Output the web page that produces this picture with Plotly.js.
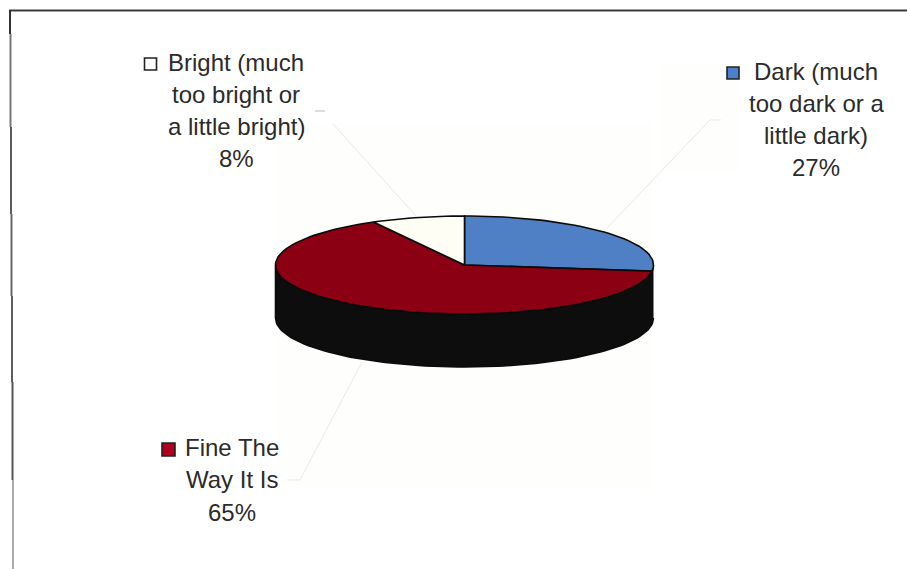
<!DOCTYPE html>
<html>
<head>
<meta charset="utf-8">
<script src="https://cdn.plot.ly/plotly-3.0.1.min.js"></script>
<style>html,body{margin:0;padding:0;background:#fff}#chart{width:907px;height:569px}</style>
</head>
<body>
<div id="chart"></div>
<script>
// Share of responses for each brightness rating, clockwise from twelve o'clock.
const categories = ['Dark', 'Fine The Way It Is', 'Bright'];
const shares = [27, 65, 8];
const sliceColors = ['#4f80c6', '#8c0013', '#fffef5'];
const keyColors = ['#4a80cc', '#b00020', '#ffffff'];

const labelLines = [
  ['Dark (much', 'too dark or a', 'little dark)', '27%'],
  ['Fine The', 'Way It Is', '65%'],
  ['Bright (much', 'too bright or', 'a little bright)', '8%']
];

// Drawing geometry of the tilted disc, in axis units (one unit = one pixel).
const disc = {cx: 464.5, cy: 265, rx: 189, ry: 49, depth: 53};
const labelPlace = [
  {x: 816, y: 71, step: 32, keyX: 733, keyY: 73, keySize: 12},
  {x: 232, y: 447, step: 32.5, keyX: 168.5, keyY: 449.5, keySize: 13},
  {x: 236, y: 62, step: 32, keyX: 150.5, keyY: 64, keySize: 12}
];

function rimPoint(deg, drop) {
  const a = deg * Math.PI / 180;
  return [disc.cx + disc.rx * Math.sin(a), disc.cy - disc.ry * Math.cos(a) + (drop || 0)];
}

function arc(from, to, drop) {
  const pts = [];
  const n = Math.max(2, Math.ceil(Math.abs(to - from) / 2));
  for (let i = 0; i <= n; i++) pts.push(rimPoint(from + (to - from) * i / n, drop));
  return pts;
}

const outline = {color: '#0b0b0b', width: 1.6};
const traces = [];

// Side wall: front half of the rim, extruded downward.
const wallPts = arc(90, 270, 0).concat(arc(270, 90, disc.depth));
traces.push({
  type: 'scatter', mode: 'lines', fill: 'toself', fillcolor: '#0d0d0d',
  x: wallPts.map(p => p[0]), y: wallPts.map(p => p[1]),
  line: outline, hoverinfo: 'skip', showlegend: false
});

// Top face: one wedge per category.
const total = shares.reduce((a, b) => a + b, 0);
let start = 0;
shares.forEach((v, i) => {
  const end = start + v / total * 360;
  const pts = [[disc.cx, disc.cy]].concat(arc(start, end, 0), [[disc.cx, disc.cy]]);
  traces.push({
    type: 'scatter', mode: 'lines', fill: 'toself', fillcolor: sliceColors[i],
    x: pts.map(p => p[0]), y: pts.map(p => p[1]),
    line: outline, name: categories[i], text: v + '%', hoverinfo: 'name+text', showlegend: false
  });
  start = end;
});

// Legend keys beside each label.
labelPlace.forEach((p, i) => {
  traces.push({
    type: 'scatter', mode: 'markers', x: [p.keyX], y: [p.keyY],
    marker: {symbol: 'square', size: p.keySize, color: keyColors[i], line: {color: '#222222', width: 1.6}},
    hoverinfo: 'skip', showlegend: false
  });
});

const annotations = [];
labelLines.forEach((lines, i) => {
  lines.forEach((t, j) => {
    annotations.push({
      x: labelPlace[i].x, y: labelPlace[i].y + j * labelPlace[i].step,
      xref: 'x', yref: 'y', text: t, showarrow: false, xanchor: 'center', yanchor: 'middle',
      font: {family: 'Liberation Sans, Arial, sans-serif', size: 24, color: '#2b2b2b'}
    });
  });
});

function seg(x0, y0, x1, y1, color, width) {
  return {type: 'line', xref: 'x', yref: 'y', x0, y0, x1, y1, layer: 'below', line: {color, width}};
}
function patch(x0, y0, x1, y1) {
  return {type: 'rect', xref: 'x', yref: 'y', x0, y0, x1, y1, layer: 'below',
          fillcolor: '#fefefc', line: {width: 0}};
}
const leader = '#e9e9e4';
const shapes = [
  // faintly tinted panels behind the chart body
  patch(278, 123, 653, 487),
  patch(662, 63, 740, 170),
  // leader lines
  seg(333, 124, 416, 216, leader, 1),
  seg(315, 111, 325, 111, '#bbbbbb', 1),
  seg(721, 120, 710, 120, leader, 1),
  seg(710, 120, 607, 228, leader, 1),
  seg(287, 480, 300, 480, leader, 1),
  seg(300, 480, 362, 362, leader, 1),
  // outer frame: the scanned rule drifts right and changes weight on its way down
  seg(9, 10.5, 907, 10.5, '#3a3a3a', 2),
  seg(10, 10, 10, 34, '#333333', 2),
  seg(10.5, 34, 10.5, 127, '#777777', 2),
  seg(11, 127, 11, 214, '#333333', 1.6),
  seg(11.5, 214, 11.5, 296, '#666666', 2),
  seg(12, 296, 12, 382, '#333333', 1.6),
  seg(12.5, 382, 12.5, 480, '#555555', 2),
  seg(13, 480, 13, 569, '#888888', 1.4)
];

const hidden = {visible: false, fixedrange: true, showgrid: false, zeroline: false};
Plotly.newPlot('chart', traces, {
  width: 907, height: 569,
  margin: {l: 0, r: 0, t: 0, b: 0},
  paper_bgcolor: '#ffffff', plot_bgcolor: '#ffffff',
  showlegend: false,
  xaxis: Object.assign({range: [0, 907]}, hidden),
  yaxis: Object.assign({range: [569, 0]}, hidden),
  annotations, shapes
}, {displayModeBar: false});
</script>
</body>
</html>
